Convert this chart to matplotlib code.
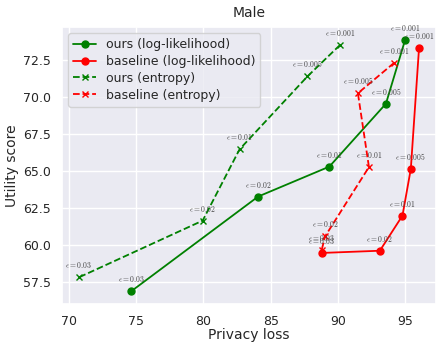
import matplotlib
matplotlib.use('Agg')
import matplotlib.pyplot as plt
import seaborn as sns

sns.set_theme(style='darkgrid')
plt.rcParams['mathtext.fontset'] = 'cm'

# epsilon values for each point
eps = ['0.001', '0.005', '0.01', '0.02', '0.03']

# log-likelihood curves
ours_ll_x = [94.99, 93.56, 89.36, 84.07, 74.64]
ours_ll_y = [73.90, 69.56, 65.30, 63.27, 56.85]
base_ll_x = [96.02, 95.41, 94.79, 93.11, 88.79]
base_ll_y = [73.34, 65.15, 61.98, 59.60, 59.45]

# entropy curves
ours_ent_x = [90.15, 87.73, 82.69, 79.95, 70.77]
ours_ent_y = [73.54, 71.41, 66.47, 61.64, 57.80]
base_ent_x = [94.17, 91.48, 92.30, 89.04, 88.79]
base_ent_y = [72.33, 70.27, 65.27, 60.57, 59.65]

fig, ax = plt.subplots(figsize=(4.4, 3.43), dpi=100)
fig.subplots_adjust(left=0.141, right=0.991, top=0.921, bottom=0.114)

ax.plot(ours_ll_x, ours_ll_y, 'o-', color='green', lw=1.3, ms=5, label='ours (log-likelihood)')
ax.plot(base_ll_x, base_ll_y, 'o-', color='red', lw=1.3, ms=5, label='baseline (log-likelihood)')
ax.plot(ours_ent_x, ours_ent_y, 'x--', color='green', lw=1.3, ms=5, label='ours (entropy)')
ax.plot(base_ent_x, base_ent_y, 'x--', color='red', lw=1.3, ms=5, label='baseline (entropy)')

# epsilon annotations
for xs, ys in [(ours_ll_x, ours_ll_y), (base_ll_x, base_ll_y),
               (ours_ent_x, ours_ent_y), (base_ent_x, base_ent_y)]:
    for x, y, e in zip(xs, ys, eps):
        ax.annotate(r'$\epsilon=%s$' % e, (x, y), xytext=(0, 5),
                    textcoords='offset points', ha='center', va='bottom',
                    fontsize=5.5, color='#444444', annotation_clip=False)

ax.set_xlabel('Privacy loss', fontsize=10, labelpad=0)
ax.set_ylabel('Utility score', fontsize=10, labelpad=3)
ax.set_title('Male', fontsize=10, pad=7)
ax.tick_params(labelsize=9, pad=2)
ax.legend(loc='upper left', fontsize=9, handlelength=1.8, borderpad=0.4, labelspacing=0.3)

plt.savefig('out.png')
